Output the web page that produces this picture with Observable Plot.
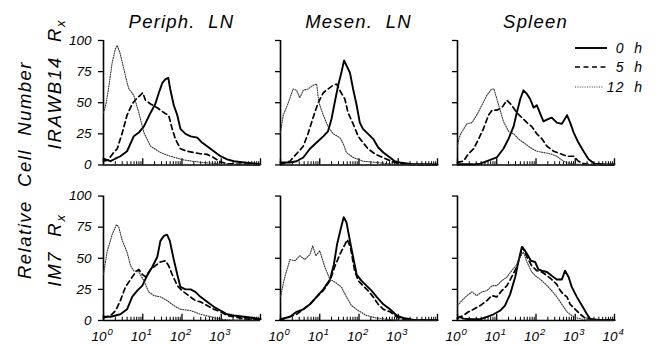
<!DOCTYPE html>
<html><head><meta charset="utf-8">
<script src="https://cdn.jsdelivr.net/npm/d3@7"></script>
<script src="https://cdn.jsdelivr.net/npm/@observablehq/plot@0.6"></script>
<style>
body{margin:0;background:#fff;}
#chart{width:662px;height:345px;}
svg text{font-family:"Liberation Sans",Arial,Helvetica,sans-serif;font-style:italic;}
</style></head><body><div id="chart"></div>
<script>
// ---- categories ----
const tissues = ["Periph. LN", "Mesen. LN", "Spleen"];
const antibodies = ["IRAWB14", "IM7"];
const times = ["0 h", "5 h", "12 h"];
// ---- ticks ----
const yTicks = [0, 25, 50, 75, 100];
const yTickLabels = ["0", "25", "50", "75", "100"];
const xMajorTicks = [1, 10, 100, 1000, 10000];
const xTickBase = ["10", "10", "10", "10", "10"];
const xTickExp = ["0", "1", "2", "3", "4"];
const xMinorTicks = [2,3,4,5,6,7,8,9,20,30,40,50,60,70,80,90,200,300,400,500,600,700,800,900,2000,3000,4000,5000,6000,7000,8000,9000];

// ---- series: [log10 fluorescence, relative cell number] ----
const periphIRAW_0h = [[0,5],[0.08,4],[0.18,3],[0.3,5],[0.43,7],[0.6,11],[0.77,23],[0.9,26],[1.03,31],[1.2,42],[1.32,49],[1.41,58],[1.5,66],[1.58,69],[1.65,70],[1.7,61],[1.79,48],[1.88,40],[1.96,29],[2.09,25],[2.22,23],[2.39,22],[2.51,18],[2.64,15],[2.81,11],[2.98,7],[3.15,4.5],[3.32,3],[3.58,2],[3.9,1],[4,0.5]];
const periphIRAW_5h = [[0,3],[0.12,4],[0.26,10],[0.35,13],[0.48,26],[0.6,40],[0.73,49],[0.86,54],[0.94,56],[1.0,58],[1.07,52],[1.2,49],[1.37,46],[1.54,42],[1.66,40],[1.75,29],[1.83,21],[1.96,13],[2.13,11],[2.3,10],[2.47,9],[2.64,8.5],[2.8,6],[2.98,2.5],[3.15,1],[3.5,0.5],[4,0.3]];
const periphIRAW_12h = [[0,42],[0.07,50],[0.14,64],[0.22,82],[0.3,93],[0.35,96],[0.42,90],[0.52,77],[0.6,66],[0.65,61],[0.77,56],[0.9,42],[1.03,26],[1.2,15],[1.45,10],[1.7,7],[2.05,4],[2.5,2],[3,0.8],[3.5,0.3],[4,0.2]];

const mesenIRAW_0h = [[0,2],[0.24,2],[0.41,3],[0.58,6],[0.75,13],[0.92,18],[1.09,23],[1.21,27],[1.3,37],[1.38,50],[1.47,64],[1.55,74],[1.62,84],[1.68,80],[1.77,74],[1.85,61],[1.94,48],[2.02,34],[2.1,29],[2.23,25],[2.36,21],[2.49,14],[2.62,10],[2.79,6],[2.91,3],[3.04,2],[3.3,0.8],[4,0.3]];
const mesenIRAW_5h = [[0,0.5],[0.24,3],[0.41,9],[0.58,15],[0.7,25],[0.83,38],[0.96,50],[1.09,58],[1.21,61],[1.34,64],[1.43,65],[1.51,60],[1.64,53],[1.72,42],[1.85,33],[1.98,23],[2.1,18],[2.23,13],[2.4,9],[2.6,6],[2.83,3],[3.04,1],[3.4,0.3],[4,0.2]];
const mesenIRAW_12h = [[0,26],[0.07,40],[0.2,50],[0.32,61],[0.41,60],[0.49,54],[0.58,60],[0.7,61],[0.83,64],[0.92,65],[0.98,50],[1.09,40],[1.21,31],[1.34,25],[1.51,22],[1.6,17],[1.68,10],[1.85,6],[2.1,3],[2.45,2],[2.7,1],[3,0.3],[4,0.2]];

const spleenIRAW_0h = [[0,0.5],[0.4,0.5],[0.58,1],[0.75,3],[1.0,6],[1.17,13],[1.3,21],[1.43,31],[1.51,42],[1.6,53],[1.68,60],[1.77,57],[1.85,53],[1.94,46],[2.02,48],[2.11,41],[2.19,35],[2.32,37],[2.4,38],[2.53,34],[2.66,33],[2.79,40],[2.87,34],[2.96,26],[3.08,18],[3.21,11],[3.34,4.5],[3.49,1],[3.7,0.5],[4,0.3]];
const spleenIRAW_5h = [[0,2],[0.15,3],[0.28,9],[0.41,13],[0.54,21],[0.66,29],[0.79,40],[0.88,44],[1.0,44],[1.13,46],[1.26,52],[1.38,48],[1.51,42],[1.64,38],[1.77,34],[1.89,31],[2.02,25],[2.15,21],[2.28,15],[2.45,11],[2.62,9],[2.8,7],[2.96,7],[3.08,3],[3.21,1],[3.5,0.3],[4,0.2]];
const spleenIRAW_12h = [[0,15],[0.04,22],[0.1,26],[0.24,33],[0.37,34],[0.49,40],[0.62,48],[0.75,56],[0.87,61],[0.93,61],[1.04,49],[1.17,35],[1.3,27],[1.43,25],[1.55,21],[1.68,18],[1.85,14],[2.02,11],[2.19,10],[2.36,9],[2.53,7],[2.7,3],[2.87,1],[3.2,0.3],[4,0.2]];

const periphIM7_0h = [[0,3],[0.18,3],[0.43,5],[0.6,9],[0.73,19],[0.86,24],[0.99,28],[1.11,36],[1.24,43],[1.37,51],[1.45,64],[1.54,68],[1.62,69],[1.69,64],[1.79,49],[1.88,37],[1.96,27],[2.09,25],[2.22,25],[2.34,23],[2.47,19],[2.64,15],[2.81,11],[2.98,8],[3.15,5],[3.32,4],[3.58,3],[3.83,2],[4,1]];
const periphIM7_5h = [[0,2],[0.18,4],[0.31,8],[0.43,16],[0.56,27],[0.69,33],[0.82,39],[0.9,41],[0.99,37],[1.07,35],[1.2,41],[1.32,44],[1.45,47],[1.58,48],[1.66,44],[1.75,37],[1.88,28],[2.0,24],[2.17,20],[2.34,16],[2.47,15],[2.64,12],[2.81,9],[2.98,7],[3.15,4],[3.32,3],[3.58,1.3],[3.9,1],[4,0.5]];
const periphIM7_12h = [[0,37],[0.09,55],[0.22,69],[0.33,77],[0.39,75],[0.48,64],[0.6,55],[0.69,44],[0.77,40],[0.9,39],[1.03,32],[1.15,23],[1.28,20],[1.45,19],[1.62,16],[1.79,12],[1.96,9],[2.22,8],[2.47,5],[2.73,3],[2.98,1],[3.3,0.3],[4,0.2]];

const mesenIM7_0h = [[0,1],[0.24,3],[0.41,7],[0.58,9],[0.75,13],[0.92,19],[1.09,25],[1.26,33],[1.36,45],[1.44,61],[1.53,73],[1.61,83],[1.68,79],[1.77,64],[1.85,51],[1.94,37],[2.06,32],[2.19,28],[2.32,24],[2.45,19],[2.62,13],[2.79,9],[2.96,4],[3.13,2],[3.4,0.5],[4,0.3]];
const mesenIM7_5h = [[0,0.5],[0.24,3],[0.41,5],[0.58,9],[0.75,13],[0.92,19],[1.09,24],[1.26,32],[1.38,43],[1.51,53],[1.64,61],[1.7,65],[1.78,59],[1.89,40],[1.98,32],[2.1,28],[2.23,24],[2.36,19],[2.49,13],[2.62,9],[2.79,7],[2.96,3],[3.13,1],[3.4,0.3],[4,0.2]];
const mesenIM7_12h = [[0,19],[0.11,35],[0.24,49],[0.37,48],[0.49,52],[0.62,49],[0.75,53],[0.82,60],[0.9,52],[1.0,56],[1.13,43],[1.26,33],[1.38,31],[1.55,27],[1.68,19],[1.81,12],[1.98,8],[2.19,4],[2.45,2],[2.7,1],[3,0.3],[4,0.2]];

const spleenIM7_0h = [[0,1.5],[0.05,3],[0.15,1.5],[0.32,1],[0.58,1],[0.75,3],[0.92,5],[1.09,8],[1.21,12],[1.34,21],[1.47,35],[1.55,47],[1.64,59],[1.7,57],[1.78,53],[1.87,48],[1.98,47],[2.06,41],[2.15,40],[2.28,39],[2.4,36],[2.53,33],[2.66,33],[2.74,40],[2.83,35],[2.91,27],[3.04,19],[3.17,12],[3.3,5],[3.38,1.3],[3.6,0.5],[4,0.3]];
const spleenIM7_5h = [[0,2],[0.15,4],[0.28,7],[0.41,9],[0.58,12],[0.75,16],[0.87,20],[1.0,19],[1.13,24],[1.26,28],[1.38,35],[1.51,43],[1.6,53],[1.66,59],[1.77,51],[1.89,44],[2.02,40],[2.15,39],[2.28,36],[2.4,33],[2.53,29],[2.62,24],[2.7,21],[2.79,19],[2.87,13],[3.0,9],[3.13,5],[3.25,2],[3.5,0.3],[4,0.2]];
const spleenIM7_12h = [[0,12],[0.11,16],[0.24,20],[0.37,23],[0.49,20],[0.62,23],[0.75,24],[0.88,28],[1.0,28],[1.13,32],[1.26,35],[1.38,40],[1.51,45],[1.6,51],[1.68,55],[1.77,47],[1.89,39],[2.02,35],[2.15,32],[2.28,28],[2.4,24],[2.53,19],[2.66,13],[2.79,7],[2.91,4],[3.04,2],[3.3,0.3],[4,0.2]];

const seriesTable = [
  ["Periph. LN","IRAWB14","0 h",periphIRAW_0h],["Periph. LN","IRAWB14","5 h",periphIRAW_5h],["Periph. LN","IRAWB14","12 h",periphIRAW_12h],
  ["Mesen. LN","IRAWB14","0 h",mesenIRAW_0h],["Mesen. LN","IRAWB14","5 h",mesenIRAW_5h],["Mesen. LN","IRAWB14","12 h",mesenIRAW_12h],
  ["Spleen","IRAWB14","0 h",spleenIRAW_0h],["Spleen","IRAWB14","5 h",spleenIRAW_5h],["Spleen","IRAWB14","12 h",spleenIRAW_12h],
  ["Periph. LN","IM7","0 h",periphIM7_0h],["Periph. LN","IM7","5 h",periphIM7_5h],["Periph. LN","IM7","12 h",periphIM7_12h],
  ["Mesen. LN","IM7","0 h",mesenIM7_0h],["Mesen. LN","IM7","5 h",mesenIM7_5h],["Mesen. LN","IM7","12 h",mesenIM7_12h],
  ["Spleen","IM7","0 h",spleenIM7_0h],["Spleen","IM7","5 h",spleenIM7_5h],["Spleen","IM7","12 h",spleenIM7_12h]
];
const rows = seriesTable.flatMap(([tissue, antibody, time, pts]) =>
  pts.map(([d, v]) => ({tissue, antibody, time, x: Math.pow(10, d), y: v})));

const styles = {
  "0 h":  {stroke: "#000", strokeWidth: 1.9, strokeDasharray: null},
  "5 h":  {stroke: "#000", strokeWidth: 1.7, strokeDasharray: "5,3.5"},
  "12 h": {stroke: "#333", strokeWidth: 1.1, strokeDasharray: "1,1.4"}
};

const yLabelRows = antibodies.flatMap(a => yTicks.map((t, i) => ({tissue: tissues[0], antibody: a, v: t, label: yTickLabels[i]})));
const xLabelRows = tissues.flatMap(t => xMajorTicks.map((x, i) => ({tissue: t, antibody: antibodies[1], x, base: xTickBase[i], exp: xTickExp[i]}))
  .filter(r => r.tissue === "Spleen" || r.x < 10000));

const lineMarks = times.map(t => Plot.line(rows.filter(r => r.time === t), {
  x: "x", y: "y", fx: "tissue", fy: "antibody", z: "tissue",
  stroke: styles[t].stroke, strokeWidth: styles[t].strokeWidth,
  strokeDasharray: styles[t].strokeDasharray, strokeLinejoin: "round", curve: "linear"
}));

const chart = Plot.plot({
  width: 662, height: 345,
  marginLeft: 103, marginRight: 48, marginTop: 40, marginBottom: 25,
  style: {background: "#fff", color: "#000", fontFamily: "'Liberation Sans', Arial, sans-serif", fontSize: "13px", fontStyle: "italic", overflow: "visible"},
  x: {type: "log", domain: [1, 10000], axis: null},
  y: {domain: [0, 100], axis: null},
  fx: {domain: tissues, paddingInner: 0.113, paddingOuter: 0, round: false, axis: null},
  fy: {domain: antibodies, paddingInner: 0.2, paddingOuter: 0, round: false, axis: null},
  marks: [
    Plot.axisY(yTicks, {tickSize: 5, tickFormat: () => "", facetAnchor: null, strokeWidth: 1.3}),
    Plot.ruleY([0], {strokeWidth: 1.6}),
    Plot.ruleX([1], {y1: 0, y2: 100, strokeWidth: 1.6}),
    Plot.ruleX(xMajorTicks, {y1: 0, y2: 5, strokeWidth: 1.3}),
    Plot.ruleX(xMinorTicks, {y1: 0, y2: 2.6, strokeWidth: 1}),
    Plot.text(yLabelRows, {fx: "tissue", fy: "antibody", x: 1, y: "v", text: "label", textAnchor: "end", dx: -12, fontSize: 13.5}),
    Plot.text(xLabelRows, {fx: "tissue", fy: "antibody", x: "x", y: 0, text: "base", textAnchor: "end", dx: 3, dy: 16, fontSize: 13.5}),
    Plot.text(xLabelRows, {fx: "tissue", fy: "antibody", x: "x", y: 0, text: "exp", textAnchor: "start", dx: 4, dy: 11, fontSize: 9.5}),
    ...lineMarks
  ]
});
document.getElementById("chart").appendChild(chart);

// ---- titles, row labels, legend ----
const svg = d3.select(chart);
const fx = chart.scale("fx");
const bw = fx.bandwidth;
tissues.forEach(t => {
  svg.append("text").attr("x", fx.apply(t) + bw / 2).attr("y", 28)
    .attr("text-anchor", "middle").attr("font-size", 18.5).attr("letter-spacing", 1.2)
    .attr("fill", "#000").text(t.replace(" ", "\u00a0 "));
});
svg.append("text").attr("transform", "translate(31,170) rotate(-90)")
  .attr("text-anchor", "middle").attr("font-size", 18.5).attr("letter-spacing", 1.5).attr("fill", "#000")
  .text("Relative\u00a0 Cell\u00a0 Number");
const rowLabel = (label, cy) => {
  const t = svg.append("text").attr("transform", `translate(61,${cy}) rotate(-90)`)
    .attr("text-anchor", "middle").attr("font-size", 18.5).attr("letter-spacing", 1.8).attr("fill", "#000");
  t.append("tspan").text(label + "\u00a0 R");
  t.append("tspan").attr("dy", 4).attr("font-size", 13).text("x");
};
rowLabel(antibodies[0], 84);
rowLabel(antibodies[1], 250);
const legendY = [48, 67, 87];
times.forEach((t, i) => {
  svg.append("line").attr("x1", 575).attr("x2", i === 2 ? 603 : 607)
    .attr("y1", legendY[i]).attr("y2", legendY[i])
    .attr("stroke", styles[t].stroke).attr("stroke-width", styles[t].strokeWidth)
    .attr("stroke-dasharray", styles[t].strokeDasharray);
  svg.append("text").attr("x", 643).attr("y", legendY[i] + 5).attr("text-anchor", "end")
    .attr("font-size", 14).attr("letter-spacing", 1).attr("fill", "#000")
    .text(t.replace(" ", "\u00a0 "));
});
</script></body></html>
